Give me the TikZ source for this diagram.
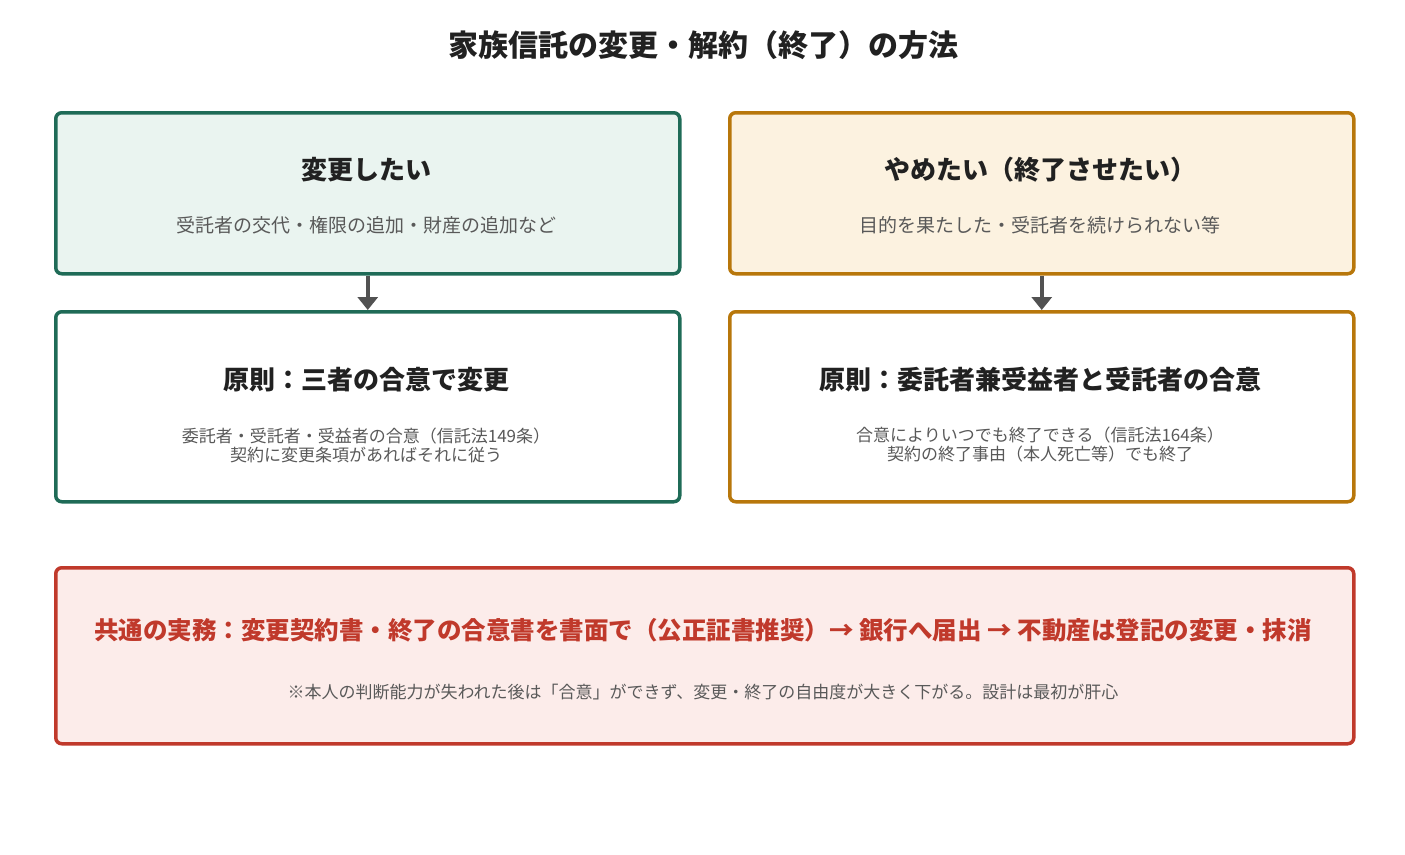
\documentclass[tikz,border=0pt]{standalone}
\usepackage{fontspec}
\setmainfont{Noto Sans CJK JP}
\begin{document}
\begin{tikzpicture}[x=1pt,y=-1pt,
 box/.style={draw, line width=3.5pt, rounded corners=6pt},
 ttl/.style={font=\bfseries\fontsize{26}{30}\selectfont, text=black!87},
 sub/.style={font=\fontsize{19}{23}\selectfont, text=black!65},
 sml/.style={font=\fontsize{17}{19}\selectfont, text=black!65, align=center},
 arr/.style={line width=4pt, draw=black!68, -{Triangle[length=13pt,width=20pt]}}]
\usetikzlibrary{arrows.meta}
\definecolor{gS}{HTML}{1F6B57}\definecolor{gF}{HTML}{EAF4F0}
\definecolor{oS}{HTML}{B8770B}\definecolor{oF}{HTML}{FCF2E0}
\definecolor{rS}{HTML}{C0392B}\definecolor{rF}{HTML}{FCECEA}
\useasboundingbox (0,0) rectangle (1405,854);
\node[font=\bfseries\fontsize{30}{34}\selectfont, text=black!87] (title) at (703,45) {家族信託の変更・解約（終了）の方法};
\node[box, draw=gS, fill=gF, minimum width=624pt, minimum height=161pt, anchor=north west] (b1) at (54,111) {};
\node[box, draw=oS, fill=oF, minimum width=624pt, minimum height=161pt, anchor=north west] (b2) at (728,111) {};
\node[box, draw=gS, fill=white, minimum width=624pt, minimum height=190pt, anchor=north west] (b3) at (54,310) {};
\node[box, draw=oS, fill=white, minimum width=624pt, minimum height=190pt, anchor=north west] (b4) at (728,310) {};
\node[box, draw=rS, fill=rF, minimum width=1298pt, minimum height=176pt, anchor=north west] (b5) at (54,566) {};
\node[ttl] (t1) at (366,170) {変更したい};
\node[sub] (s1) at (366,225) {受託者の交代・権限の追加・財産の追加など};
\node[ttl] (t2) at (1040,170) {やめたい（終了させたい）};
\node[sub] (s2) at (1040,225) {目的を果たした・受託者を続けられない等};
\node[ttl] (t3) at (366,380) {原則：三者の合意で変更};
\node[sml] (s3) at (366,445) {委託者・受託者・受益者の合意（信託法149条）\\契約に変更条項があればそれに従う};
\node[ttl] (t4) at (1040,380) {原則：委託者兼受益者と受託者の合意};
\node[sml] (s4) at (1040,445) {合意によりいつでも終了できる（信託法164条）\\契約の終了事由（本人死亡等）でも終了};
\node[ttl, text=rS, font=\bfseries\fontsize{24.5}{28}\selectfont] (t5) at (703,630) {共通の実務：変更契約書・終了の合意書を書面で（公正証書推奨）→ 銀行へ届出 → 不動産は登記の変更・抹消};
\node[sml] (s5) at (703,692) {※本人の判断能力が失われた後は「合意」ができず、変更・終了の自由度が大きく下がる。設計は最初が肝心};
\draw[arr] (b1.south) -- (b3.north);
\draw[arr] (b2.south) -- (b4.north);
\end{tikzpicture}
\end{document}
